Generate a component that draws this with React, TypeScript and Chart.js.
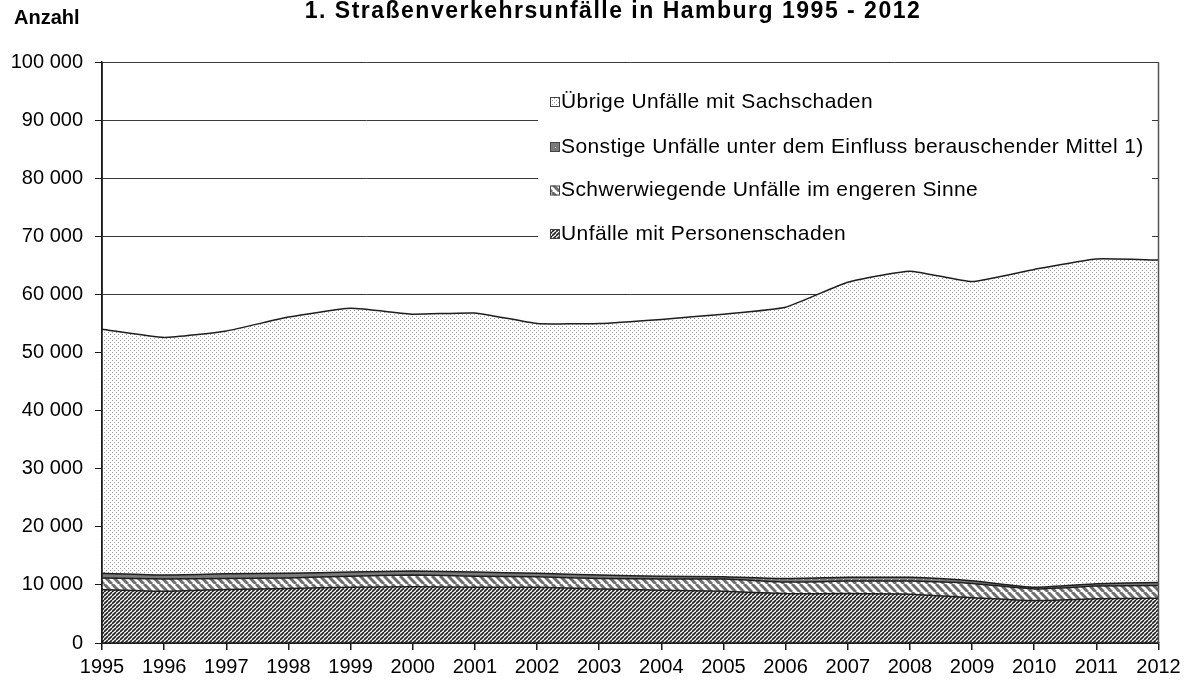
import React, { useEffect, useRef } from "react";
import { Chart, registerables } from "chart.js";

Chart.register(...registerables);

const years = ["1995", "1996", "1997", "1998", "1999", "2000", "2001", "2002", "2003", "2004", "2005", "2006", "2007", "2008", "2009", "2010", "2011", "2012"];
const personenschaden = [9200, 8900, 9200, 9400, 9600, 9700, 9600, 9600, 9300, 9100, 8900, 8500, 8500, 8400, 7800, 7300, 7600, 7700];
const schwerwiegende = [2000, 2100, 1900, 1800, 1900, 2000, 1900, 1800, 1800, 1900, 2100, 2000, 2150, 2250, 2450, 2000, 2200, 2200];
const berauschend = [800, 700, 800, 800, 700, 700, 700, 600, 600, 500, 400, 600, 650, 650, 450, 300, 400, 500];
const uebrige = [42000, 40900, 41800, 44100, 45400, 44200, 44600, 43000, 43300, 44200, 45200, 46700, 50800, 52700, 51500, 54700, 55900, 55500];

const seriesNames = [
  "Unfälle mit Personenschaden",
  "Schwerwiegende Unfälle im engeren Sinne",
  "Sonstige Unfälle unter dem Einfluss berauschender Mittel 1)",
  "Übrige Unfälle mit Sachschaden",
];
const titleText = "1. Straßenverkehrsunfälle in Hamburg 1995 - 2012";
const yAxisTitle = "Anzahl";
const yMin = 0;
const yMax = 100000;
const yStep = 10000;

const FONT = '"Liberation Sans", Arial, sans-serif';

type Kind = "dots" | "solid" | "stripes" | "hatch";

function makePattern(ctx: CanvasRenderingContext2D, kind: Kind): CanvasPattern | string {
  const c = document.createElement("canvas");
  let s = 4;
  if (kind === "stripes" || kind === "solid") s = 8;
  c.width = s;
  c.height = s;
  const g = c.getContext("2d")!;
  if (kind === "dots") {
    g.fillStyle = "#ffffff";
    g.fillRect(0, 0, s, s);
    g.fillStyle = "#999999";
    g.fillRect(0, 0, 1, 1);
    g.fillRect(2, 2, 1, 1);
  } else if (kind === "solid") {
    g.fillStyle = "#7a7a7a";
    g.fillRect(0, 0, s, s);
    g.fillStyle = "#c8c8c8";
    g.fillRect(3, 3, 1, 1);
  } else if (kind === "stripes") {
    g.fillStyle = "#ffffff";
    g.fillRect(0, 0, s, s);
    g.strokeStyle = "#6e6e6e";
    g.lineWidth = 3;
    for (const o of [-8, 0, 8]) {
      g.beginPath();
      g.moveTo(o, 0);
      g.lineTo(o + 8, 8);
      g.stroke();
    }
  } else {
    g.fillStyle = "#ffffff";
    g.fillRect(0, 0, s, s);
    g.strokeStyle = "#1e1e1e";
    g.lineWidth = 1.6;
    for (const o of [-4, 0, 4]) {
      g.beginPath();
      g.moveTo(o, 4);
      g.lineTo(o + 4, 0);
      g.stroke();
    }
  }
  return ctx.createPattern(c, "repeat") || "#888";
}

function fmt(v: number): string {
  return String(v).replace(/\B(?=(\d{3})+(?!\d))/g, " ");
}

export default function App() {
  const ref = useRef<HTMLCanvasElement | null>(null);

  useEffect(() => {
    const canvas = ref.current!;
    const ctx = canvas.getContext("2d")!;
    const pHatch = makePattern(ctx, "hatch");
    const pStripes = makePattern(ctx, "stripes");
    const pSolid = makePattern(ctx, "solid");
    const pDots = makePattern(ctx, "dots");
    const fills = [pHatch, pStripes, pSolid, pDots];

    const decor = {
      id: "decor",
      beforeDraw(chart: any) {
        const c = chart.ctx;
        c.save();
        c.fillStyle = "#ffffff";
        c.fillRect(0, 0, chart.width, chart.height);
        c.restore();
      },
      afterDatasetsDraw(chart: any) {
        const c = chart.ctx as any;
        const a = chart.chartArea;
        c.save();
        c.strokeStyle = "#1a1a1a";
        c.lineWidth = 1.5;
        c.beginPath();
        c.moveTo(a.left, a.top);
        c.lineTo(a.left, a.bottom);
        c.lineTo(a.right, a.bottom);
        c.stroke();
        c.strokeStyle = "#555555";
        c.lineWidth = 1.5;
        c.beginPath();
        c.moveTo(a.right, a.top);
        c.lineTo(a.right, a.bottom);
        c.stroke();
        // legend box
        c.fillStyle = "#ffffff";
        c.fillRect(538, 82, 614, 170);
        c.font = `21px ${FONT}`;
        c.letterSpacing = "0.4px";
        c.textBaseline = "middle";
        c.textAlign = "left";
        const ys = [102, 147, 190.5, 234];
        for (let i = 0; i < 4; i++) {
          const di = 3 - i;
          const y = ys[i];
          c.fillStyle = fills[di];
          c.fillRect(550, y - 5, 10, 10);
          c.strokeStyle = "#444";
          c.lineWidth = 1;
          c.strokeRect(550.5, y - 4.5, 9, 9);
          c.fillStyle = "#000";
          c.fillText(seriesNames[di], 561, y);
        }
        c.restore();
      },
      afterDraw(chart: any) {
        const c = chart.ctx as any;
        c.save();
        c.fillStyle = "#000";
        c.textBaseline = "middle";
        c.font = `bold 23px ${FONT}`;
        c.letterSpacing = "1.5px";
        c.textAlign = "center";
        c.fillText(titleText, 613, 12);
        c.letterSpacing = "0px";
        c.font = `bold 20px ${FONT}`;
        c.textAlign = "left";
        c.fillText(yAxisTitle, 14, 18);
        c.restore();
      },
    };

    const chart = new Chart(ctx, {
      type: "line",
      data: {
        labels: years,
        datasets: [
          { label: seriesNames[0], data: personenschaden, backgroundColor: pHatch as any, fill: "origin" },
          { label: seriesNames[1], data: schwerwiegende, backgroundColor: pStripes as any, fill: "-1" },
          { label: seriesNames[2], data: berauschend, backgroundColor: pSolid as any, fill: "-1" },
          { label: seriesNames[3], data: uebrige, backgroundColor: pDots as any, fill: "-1" },
        ].map((d) => ({
          ...d,
          borderColor: "#1e1e1e",
          borderWidth: 1.5,
          pointRadius: 0,
          tension: 0.15,
        })),
      },
      options: {
        responsive: false,
        animation: false,
        layout: { padding: { left: 0, top: 62, right: 35.5, bottom: 0 } },
        plugins: {
          legend: { display: false },
          title: { display: false },
          tooltip: { enabled: false },
        },
        scales: {
          x: {
            offset: false,
            grid: { drawOnChartArea: false, drawTicks: true, tickLength: 7, color: "#1a1a1a", lineWidth: 1.5 },
            border: { display: true, color: "#1a1a1a", width: 1.5 },
            ticks: { color: "#000", font: { size: 20, family: FONT }, padding: 5, maxRotation: 0, autoSkip: false },
            afterFit(scale: any) {
              scale.height = 39;
            },
          },
          y: {
            stacked: true,
            min: yMin,
            max: yMax,
            grid: { color: "#3a3a3a", lineWidth: 1, tickLength: 7, tickColor: "#1a1a1a" },
            border: { display: true, color: "#1a1a1a", width: 1.5 },
            ticks: {
              stepSize: yStep,
              color: "#000",
              font: { size: 20, family: FONT },
              padding: 12,
              callback: (v: any) => fmt(Number(v)),
            },
            afterFit(scale: any) {
              scale.width = 102;
            },
          },
        },
      },
      plugins: [decor],
    } as any);

    return () => chart.destroy();
  }, []);

  return (
    <div style={{ position: "absolute", left: 0, top: 0, width: 1194, height: 682, background: "#fff" }}>
      <canvas ref={ref} width={1194} height={682} style={{ display: "block" }} />
    </div>
  );
}
